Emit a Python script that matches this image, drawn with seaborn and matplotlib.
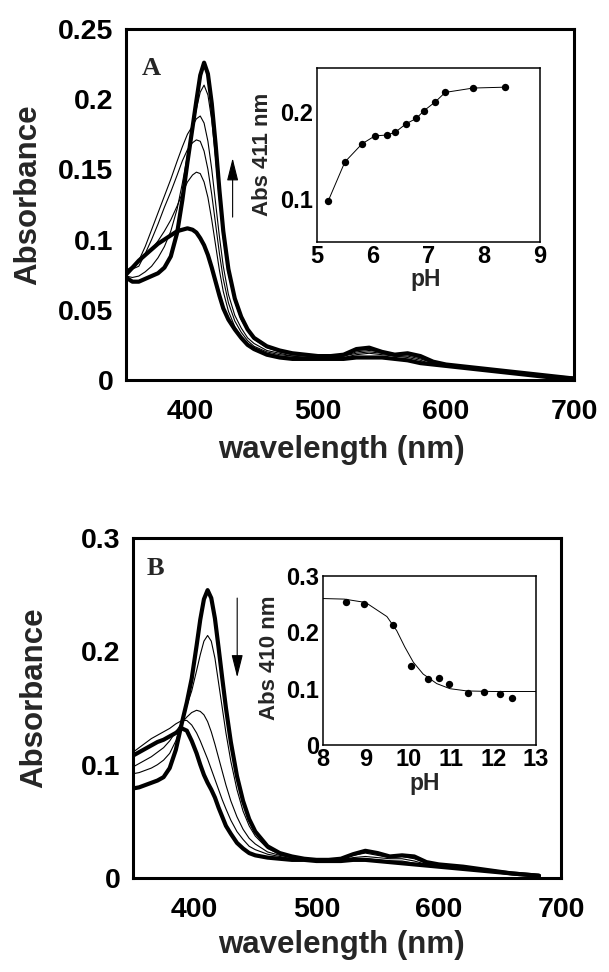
import matplotlib
matplotlib.use("Agg")
import matplotlib.pyplot as plt
import seaborn as sns
import pandas as pd

# ---------------- data ----------------
# Panel A spectra (pH 5.2 -> 8.4)
wl_A = [350, 355, 360, 365, 370, 375, 380, 385, 390, 394, 398, 402, 405, 408, 411,
        414, 417, 420, 423, 426, 430, 435, 440, 445, 450, 460, 470, 480, 490, 500,
        510, 520, 530, 540, 550, 560, 570, 580, 590, 600, 620, 640, 660, 680, 700]
A_low = [.075, .080, .085, .089, .093, .097, .100, .103, .106, .107, .108, .107, .105, .101, .096,
         .089, .080, .070, .060, .051, .043, .036, .030, .025, .022, .018, .016, .015, .015, .015,
         .015, .015, .016, .016, .016, .015, .014, .012, .011, .010, .008, .006, .004, .002, .001]
A_t2 = [.077, .080, .084, .088, .093, .099, .106, .114, .124, .133, .141, .146, .148, .147, .141,
        .130, .114, .096, .078, .063, .049, .038, .031, .026, .023, .019, .017, .016, .016, .016,
        .016, .016, .018, .019, .018, .017, .016, .014, .011, .010, .008, .006, .004, .002, .001]
A_t3 = [.078, .079, .081, .090, .100, .111, .123, .134, .146, .156, .164, .169, .171, .170, .163,
        .150, .132, .111, .090, .072, .055, .042, .034, .028, .024, .020, .018, .017, .016, .016,
        .016, .017, .019, .020, .019, .017, .017, .015, .012, .010, .008, .006, .004, .002, .001]
A_t4 = [.078, .081, .085, .095, .107, .119, .131, .143, .156, .166, .175, .181, .186, .188, .183,
        .170, .150, .126, .102, .081, .061, .046, .037, .030, .026, .021, .019, .017, .016, .016,
        .016, .017, .020, .021, .020, .018, .018, .016, .012, .010, .008, .006, .004, .002, .001]
A_t5 = [.074, .073, .074, .077, .081, .087, .095, .106, .122, .140, .160, .180, .193, .205, .210,
        .203, .185, .158, .128, .101, .076, .056, .043, .035, .029, .023, .020, .018, .017, .017,
        .017, .018, .021, .022, .020, .018, .019, .016, .013, .011, .009, .007, .005, .003, .001]
A_high = [.073, .070, .070, .072, .074, .076, .080, .088, .105, .128, .155, .180, .199, .217, .226,
          .218, .197, .168, .135, .106, .079, .058, .045, .036, .030, .024, .021, .019, .018, .017,
          .017, .018, .022, .023, .020, .018, .019, .017, .013, .011, .009, .007, .005, .003, .001]

# Panel A inset: Abs 411 nm vs pH
pH_A = [5.20, 5.50, 5.81, 6.04, 6.25, 6.40, 6.60, 6.78, 6.92, 7.12, 7.30, 7.80, 8.37]
abs411 = [0.097, 0.142, 0.163, 0.172, 0.173, 0.176, 0.186, 0.192, 0.201, 0.211, 0.222, 0.227, 0.228]

# Panel B spectra (pH 8.5 -> 12.4)
wl_B = [350, 355, 360, 365, 370, 375, 380, 385, 390, 394, 398, 402, 405, 408, 411,
        414, 417, 420, 423, 426, 430, 435, 440, 445, 450, 460, 470, 480, 490, 500,
        510, 520, 530, 540, 550, 560, 570, 580, 590, 600, 620, 640, 660, 682]
B_high = [.079, .080, .082, .084, .086, .089, .097, .113, .137, .155, .176, .205, .228, .246, .254,
          .247, .229, .203, .176, .150, .120, .090, .068, .052, .041, .028, .022, .019, .017, .016,
          .016, .017, .021, .024, .022, .019, .020, .019, .014, .012, .010, .007, .004, .002]
B_t2 = [.092, .093, .095, .097, .100, .104, .110, .121, .139, .152, .165, .183, .197, .209, .214,
        .209, .194, .172, .150, .128, .103, .078, .059, .046, .037, .026, .021, .018, .017, .016,
        .016, .017, .020, .022, .020, .018, .019, .017, .013, .012, .010, .007, .004, .002]
B_t3 = [.098, .101, .104, .107, .111, .115, .121, .129, .137, .142, .146, .148, .147, .144, .138,
        .129, .118, .106, .094, .082, .068, .054, .043, .035, .030, .023, .020, .018, .017, .016,
        .016, .016, .018, .019, .018, .017, .017, .015, .012, .011, .009, .006, .004, .002]
B_t4 = [.111, .115, .119, .123, .126, .129, .132, .136, .139, .139, .135, .128, .121, .113, .105,
        .096, .087, .078, .069, .061, .051, .041, .034, .028, .025, .021, .019, .017, .016, .016,
        .016, .016, .017, .017, .016, .015, .015, .013, .012, .011, .009, .006, .004, .002]
B_low = [.108, .111, .114, .117, .120, .122, .125, .128, .132, .130, .121, .110, .100, .091, .084,
         .078, .071, .062, .054, .046, .039, .031, .026, .022, .020, .018, .017, .016, .016, .015,
         .015, .015, .016, .016, .015, .014, .013, .012, .011, .010, .008, .006, .004, .002]

# Panel B inset: Abs 410 nm vs pH (points and fitted curve)
pH_B = [8.53, 8.96, 9.65, 10.06, 10.46, 10.73, 10.96, 11.41, 11.78, 12.15, 12.43]
abs410 = [0.254, 0.251, 0.2135, 0.140, 0.117, 0.119, 0.109, 0.092, 0.094, 0.091, 0.084]
fit_pH_B = [8.0, 8.5, 9.0, 9.18, 9.5, 9.73, 9.92, 10.12, 10.35, 10.67, 10.98, 11.38, 12.0, 13.0]
fit_abs410 = [0.260, 0.259, 0.253, 0.244, 0.228, 0.203, 0.174, 0.147, 0.126, 0.109, 0.100, 0.096, 0.095, 0.095]

xt_main = [400, 500, 600, 700]
xt_main_lbl = ["400", "500", "600", "700"]
yt_A = [0, 0.05, 0.1, 0.15, 0.2, 0.25]
yt_A_lbl = ["0", "0.05", "0.1", "0.15", "0.2", "0.25"]
yt_B = [0, 0.1, 0.2, 0.3]
yt_B_lbl = ["0", "0.1", "0.2", "0.3"]
xt_inA = [5, 6, 7, 8, 9]
yt_inA = [0.1, 0.2]
yt_inA_lbl = ["0.1", "0.2"]
xt_inB = [8, 9, 10, 11, 12, 13]
yt_inB = [0, 0.1, 0.2, 0.3]
yt_inB_lbl = ["0", "0.1", "0.2", "0.3"]

# ---------------- style ----------------
sns.set_theme(style="white")
plt.rcParams['font.family'] = ['Liberation Sans', 'DejaVu Sans']
plt.rcParams['font.weight'] = 'bold'
plt.rcParams['axes.labelweight'] = 'bold'

fig = plt.figure(figsize=(6.09, 9.72), dpi=100)

def style_main(ax, xlim, ylim, yt, ytl):
    ax.set_xlim(*xlim)
    ax.set_ylim(*ylim)
    ax.set_xticks(xt_main)
    ax.set_xticklabels(xt_main_lbl)
    ax.set_yticks(yt)
    ax.set_yticklabels(ytl)
    for s in ax.spines.values():
        s.set_linewidth(2.2)
        s.set_color('black')
        s.set_visible(True)
    ax.tick_params(axis='both', direction='in', length=7, width=2.0, colors='black',
                   labelsize=20.5, top=False, right=False)
    ax.tick_params(axis='x', pad=14)
    ax.tick_params(axis='y', pad=9)
    for t in ax.get_xticklabels() + ax.get_yticklabels():
        t.set_fontweight('bold')
    ax.set_facecolor('white')

def style_inset(ax, xlim, ylim, xt, yt, ytl):
    ax.set_xlim(*xlim)
    ax.set_ylim(*ylim)
    ax.set_xticks(xt)
    ax.set_xticklabels([str(v) for v in xt])
    ax.set_yticks(yt)
    ax.set_yticklabels(ytl)
    for s in ax.spines.values():
        s.set_linewidth(1.1)
        s.set_color('black')
        s.set_visible(True)
    ax.tick_params(axis='both', direction='in', length=4, width=1.0, colors='black',
                   labelsize=17, top=False, right=False)
    ax.tick_params(axis='x', pad=2)
    ax.tick_params(axis='y', pad=3)
    for t in ax.get_xticklabels() + ax.get_yticklabels():
        t.set_fontweight('bold')
    ax.set_facecolor('white')

# ---------------- panel A ----------------
axA = fig.add_axes([0.2069, 0.6091, 0.7356, 0.3611])
specA = [(A_low, 3.0), (A_t2, 0.8), (A_t3, 0.8), (A_t4, 0.8), (A_t5, 0.8), (A_high, 3.0)]
for vals, lw in specA:
    sns.lineplot(x=wl_A, y=vals, ax=axA, color='black', lw=lw)
style_main(axA, (350, 700), (0, 0.25), yt_A, yt_A_lbl)
axA.set_xlabel("wavelength (nm)", fontsize=22.5, fontweight='bold', va='center')
axA.set_ylabel("Absorbance", fontsize=22.5, fontweight='bold', va='center')
axA.xaxis.set_label_coords(0.48, -0.199)
axA.yaxis.set_label_coords(-0.219, 0.527)
axA.text(362.4, 0.217, "A", fontsize=19, fontweight='bold', family=['Liberation Serif', 'DejaVu Serif'],
         ha='left', va='baseline')
axA.annotate("", xy=(433.3, 0.158), xytext=(433.3, 0.116),
             arrowprops=dict(arrowstyle='-|>,head_length=1.4,head_width=0.35', color='black',
                             lw=0.8, mutation_scale=10, shrinkA=0, shrinkB=0))

insA = fig.add_axes([0.5205, 0.7510, 0.3662, 0.1790])
sns.lineplot(x=pH_A, y=abs411, ax=insA, color='black', lw=0.7)
sns.scatterplot(x=pH_A, y=abs411, ax=insA, color='black', s=28, edgecolor='black', linewidth=0, zorder=3)
style_inset(insA, (5, 9), (0.05, 0.25), xt_inA, yt_inA, yt_inA_lbl)
insA.set_xlabel("pH", fontsize=16.5, fontweight='bold', va='center')
insA.set_ylabel("Abs 411 nm", fontsize=16, fontweight='bold', va='center')
insA.xaxis.set_label_coords(0.489, -0.215)
insA.yaxis.set_label_coords(-0.244, 0.506)

# ---------------- panel B ----------------
axB = fig.add_axes([0.2184, 0.0967, 0.7028, 0.3498])
specB = [(B_high, 3.0), (B_t2, 0.8), (B_t3, 0.8), (B_t4, 0.8), (B_low, 3.0)]
for vals, lw in specB:
    sns.lineplot(x=wl_B, y=vals, ax=axB, color='black', lw=lw)
style_main(axB, (350, 700), (0, 0.3), yt_B, yt_B_lbl)
axB.set_xlabel("wavelength (nm)", fontsize=22.5, fontweight='bold', va='center')
axB.set_ylabel("Absorbance", fontsize=22.5, fontweight='bold', va='center')
axB.xaxis.set_label_coords(0.488, -0.197)
axB.yaxis.set_label_coords(-0.231, 0.529)
axB.text(361.5, 0.267, "B", fontsize=19, fontweight='bold', family=['Liberation Serif', 'DejaVu Serif'],
         ha='left', va='baseline')
axB.annotate("", xy=(435.2, 0.177), xytext=(435.2, 0.247),
             arrowprops=dict(arrowstyle='-|>,head_length=1.4,head_width=0.35', color='black',
                             lw=0.8, mutation_scale=10, shrinkA=0, shrinkB=0))

insB = fig.add_axes([0.5304, 0.2335, 0.3498, 0.1739])
sns.lineplot(x=fit_pH_B, y=fit_abs410, ax=insB, color='black', lw=0.7)
sns.scatterplot(x=pH_B, y=abs410, ax=insB, color='black', s=28, edgecolor='black', linewidth=0, zorder=3)
style_inset(insB, (8, 13), (0, 0.3), xt_inB, yt_inB, yt_inB_lbl)
insB.set_xlabel("pH", fontsize=16.5, fontweight='bold', va='center')
insB.set_ylabel("Abs 410 nm", fontsize=16, fontweight='bold', va='center')
insB.xaxis.set_label_coords(0.479, -0.225)
insB.yaxis.set_label_coords(-0.249, 0.515)

fig.savefig("out.png", dpi=100, facecolor='white')
